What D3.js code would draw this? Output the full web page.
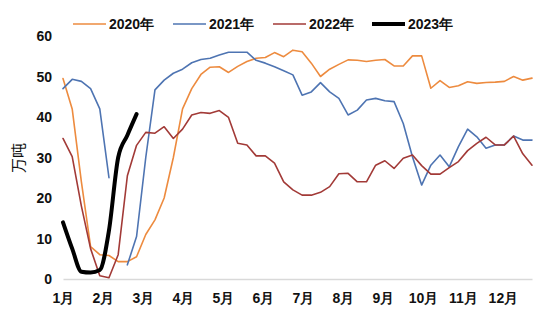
<!DOCTYPE html>
<html>
<head>
<meta charset="utf-8">
<script src="https://cdn.jsdelivr.net/npm/d3@7"></script>
<style>
  body { margin: 0; background: #fff; }
  .tick text { font-family: "Liberation Sans", Arial, sans-serif; font-weight: bold; font-size: 14px; fill: #111; }
</style>
</head>
<body>
<div id="chart"></div>
<script>
// weekly data, 52 weeks per year (万吨)
var months = ["1月", "2月", "3月", "4月", "5月", "6月", "7月", "8月", "9月", "10月", "11月", "12月"];
var yTicks = [0, 10, 20, 30, 40, 50, 60];

var y2020 = [49.5, 42, 24, 8, 6, 5.8, 4.3, 4.3, 5.5, 11, 14.6, 20, 30, 42, 47, 50.5, 52.3, 52.4, 51, 52.5,
  53.7, 54.5, 54.7, 55.9, 54.9, 56.5, 56.1, 53.3, 50, 51.8, 53, 54.1, 54, 53.7, 54, 54.2, 52.6, 52.6, 55.1, 55.1,
  47.1, 49, 47.3, 47.7, 48.7, 48.3, 48.5, 48.6, 48.8, 50, 49.1, 49.6];
var y2021 = [47, 49.3, 48.8, 47, 42, 25, null, 3.5, 10.5, 30, 46.7, 49.1, 50.8, 51.8, 53.4, 54.2, 54.5, 55.3, 56, 56,
  56, 54, 53.3, 52.4, 51.4, 50.4, 45.4, 46.2, 48.5, 46.2, 44.6, 40.5, 41.7, 44.2, 44.6, 44, 43.8, 38.4, 30.2, 23.2,
  28.1, 30.6, 27.7, 32.7, 37, 35.1, 32.3, 33.1, 33.1, 35.3, 34.3, 34.3];
var y2022 = [34.7, 30.2, 18, 7.5, 0.8, 0.3, 6, 25.5, 33, 36.2, 36, 37.6, 34.7, 37, 40.5, 41.1, 40.9, 41.6, 39.9, 33.5,
  33.1, 30.4, 30.4, 28.6, 24, 22, 20.7, 20.7, 21.4, 22.8, 26, 26.1, 24, 24, 28.1, 29.2, 27.3, 29.8, 30.6, 28,
  25.9, 25.9, 27.5, 29, 31.7, 33.5, 35, 33.1, 33.1, 35.3, 30.9, 28.1];
var y2023 = [14, 7.5, 1.8, 1.6, 2.2, 12, 30, 35.5, 40.7];

var series = [
  { name: "2020年", values: y2020, color: "#ED8B3F", width: 1.6 },
  { name: "2021年", values: y2021, color: "#4E74B2", width: 1.6 },
  { name: "2022年", values: y2022, color: "#A23A37", width: 1.6 },
  { name: "2023年", values: y2023, color: "#000000", width: 4 }
];

var width = 550, height = 330;

var xscale = d3.scaleLinear().domain([0, 51]).range([63, 532]);
var yscale = d3.scaleLinear().domain([0, 60]).range([279, 36]);

var svg = d3.select("#chart").append("svg")
  .attr("width", width)
  .attr("height", height);

// x axis (month labels at week positions)
var xAxis = d3.axisBottom(xscale)
  .tickValues(months.map(function (m, i) { return i * 30.44 / 7; }))
  .tickFormat(function (d, i) { return months[i]; })
  .tickSize(0)
  .tickPadding(14);

var gx = svg.append("g")
  .attr("transform", "translate(0,279)")
  .call(xAxis);
gx.select(".domain").attr("stroke", "#d9d9d9").attr("stroke-width", 1.5);

// y axis, labels only
var gy = svg.append("g")
  .attr("transform", "translate(52,0)")
  .call(d3.axisLeft(yscale).tickValues(yTicks).tickSize(0).tickPadding(0));
gy.select(".domain").remove();
gy.selectAll(".tick text").attr("dy", "0.35em");

// y label
svg.append("text")
  .attr("transform", "translate(24,158)rotate(-90)")
  .attr("text-anchor", "middle")
  .style("font-family", "'Noto Sans CJK SC', sans-serif")
  .style("font-size", "15px")
  .style("fill", "#111")
  .text("万吨");

var line = d3.line()
  .defined(function (d) { return d != null; })
  .x(function (d, i) { return xscale(i); })
  .y(function (d) { return yscale(d); });

series.forEach(function (s) {
  svg.append("path")
    .datum(s.values)
    .attr("fill", "none")
    .attr("stroke", s.color)
    .attr("stroke-width", s.width)
    .attr("stroke-linejoin", "round")
    .attr("stroke-linecap", "round")
    .attr("d", s.name === "2023年" ? line.curve(d3.curveMonotoneX)(s.values) : line.curve(d3.curveLinear)(s.values));
});

// legend
var legendX = [73, 173, 273, 372];
var legend = svg.selectAll(".legend")
  .data(series)
  .enter().append("g")
  .attr("class", "legend")
  .attr("transform", function (d, i) { return "translate(" + legendX[i] + ",24)"; });

legend.append("line")
  .attr("x1", 0).attr("x2", 33)
  .attr("stroke", function (d) { return d.color; })
  .attr("stroke-width", function (d) { return d.width; });

legend.append("text")
  .attr("x", 36)
  .attr("dy", "0.35em")
  .style("font-family", "'Liberation Sans', Arial, sans-serif")
  .style("font-weight", "bold")
  .style("font-size", "14px")
  .style("fill", "#111")
  .text(function (d) { return d.name; });
</script>
</body>
</html>
